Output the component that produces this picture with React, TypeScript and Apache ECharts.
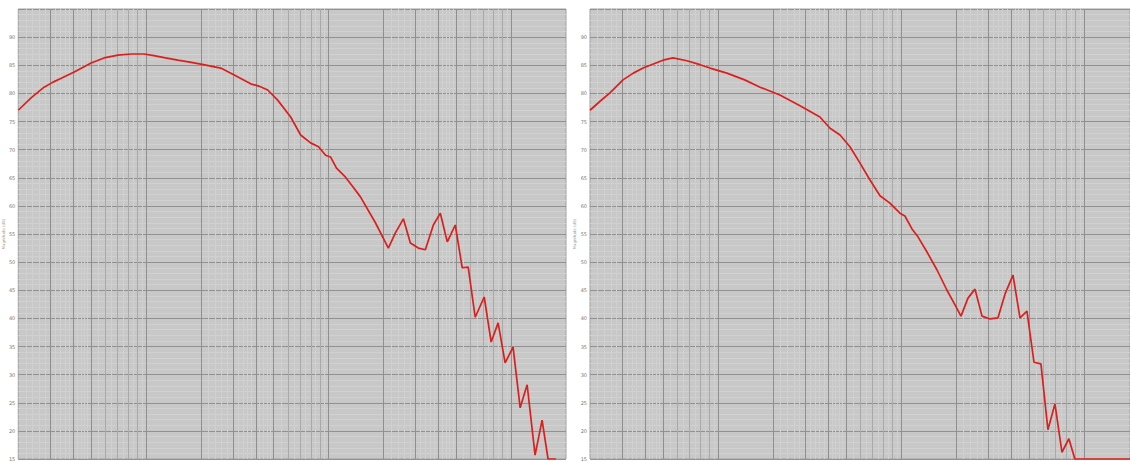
import React, { useEffect, useRef } from "react";
import * as echarts from "echarts";

// Left panel curve (frequency Hz, level dB)
const FREQ_LEFT = [20, 23.5, 27.7, 31, 34.4, 40.5, 50.1, 59, 70.4, 83, 97.6, 110.7, 128, 149.7, 171, 200, 257, 303, 375, 415, 465, 527, 621, 704, 798, 883, 964, 1026, 1107, 1240, 1354, 1497, 1808, 2128, 2326, 2572, 2810, 3108, 3394, 3754, 4099, 4475, 4948, 5404, 5826, 6363, 7130, 7783, 8496, 9281, 10260, 11220, 12250, 13540, 14790, 15950, 17600];
const LEVEL_LEFT = [77.0, 79.2, 81.1, 82.0, 82.7, 83.8, 85.4, 86.3, 86.8, 87.0, 87.0, 86.7, 86.3, 85.9, 85.6, 85.2, 84.5, 83.3, 81.7, 81.3, 80.6, 78.8, 75.8, 72.6, 71.2, 70.5, 69.0, 68.7, 66.7, 65.1, 63.5, 61.6, 57.0, 52.5, 55.2, 57.7, 53.4, 52.5, 52.2, 56.6, 58.7, 53.6, 56.6, 49.0, 49.1, 40.2, 43.8, 35.8, 39.2, 32.1, 34.9, 24.1, 28.2, 15.7, 21.9, 15, 15];

// Right panel curve
const FREQ_RIGHT = [20, 22.7, 25.7, 30.3, 34.5, 39, 50.1, 56.8, 67.8, 79.8, 90.5, 112, 140, 170, 218, 281, 361, 410, 465, 527, 598, 678, 769, 871, 988, 1052, 1150, 1240, 1389, 1576, 1786, 1976, 2130, 2326, 2541, 2776, 3070, 3394, 3706, 4099, 4475, 4886, 5338, 5826, 6363, 6950, 7590, 8280, 8930, 12000, 17870];
const LEVEL_RIGHT = [77.0, 78.6, 80.1, 82.4, 83.6, 84.5, 85.9, 86.3, 85.8, 85.1, 84.5, 83.6, 82.4, 81.1, 79.7, 77.8, 75.8, 73.8, 72.6, 70.5, 67.6, 64.6, 61.8, 60.5, 58.7, 58.2, 55.9, 54.5, 51.8, 48.6, 45.0, 42.4, 40.4, 43.6, 45.2, 40.4, 39.9, 40.1, 44.3, 47.7, 40.1, 41.3, 32.2, 31.9, 20.2, 24.8, 16.2, 18.6, 15, 15, 15];

// Axis extents / ticks
const X_MIN = 20;
const X_MAX_LEFT = 20000;
const X_MAX_RIGHT = 17870;
const Y_MIN = 15;
const Y_MAX = 95;
const Y_STEP = 5;
const Y_NAME = "Magnitude (dB)";

// Vertical grid line positions (Hz)
const DECADES = [10, 100, 1000, 10000];
const STRONG_MULT = [2, 3, 4, 5, 10];
const MID_MULT = [6, 7, 8, 9];
const FAINT_MULT = [2.2, 2.4, 2.6, 2.8, 3.2, 3.4, 3.6, 3.8, 4.2, 4.4, 4.6, 4.8, 5.5, 6.5, 7.5, 8.5, 9.5];

export default function App() {
  const ref = useRef<HTMLDivElement>(null);

  useEffect(() => {
    const chart = echarts.init(ref.current!, null, { renderer: "svg" });

    const vLines = (maxX: number) => {
      const out: any[] = [];
      const add = (mults: number[], color: string) => {
        DECADES.forEach((d) =>
          mults.forEach((m) => {
            const v = Math.round(d * m * 1000) / 1000;
            if (v > X_MIN && v < maxX) out.push({ xAxis: v, lineStyle: { color, width: 1, type: "solid" } });
          })
        );
      };
      add(FAINT_MULT, "#d0d0d0");
      add(MID_MULT, "#a9a9a9");
      add(STRONG_MULT, "#8f8f8f");
      return out;
    };

    const grids = [
      { left: 17, top: 9, width: 549, height: 450 },
      { left: 590, top: 9, width: 540, height: 450 },
    ].map((g) => ({
      ...g,
      show: true,
      backgroundColor: "#c8c8c8",
      borderColor: "#a0a0a0",
      borderWidth: 1,
      containLabel: false,
    }));

    const xAxes = [X_MAX_LEFT, X_MAX_RIGHT].map((mx, i) => ({
      type: "log",
      logBase: 10,
      gridIndex: i,
      min: X_MIN,
      max: mx,
      axisLine: { show: false },
      axisTick: { show: false },
      axisLabel: { show: false },
      splitLine: { show: false },
    }));

    const yAxes = [0, 1].map((i) => ({
      type: "value",
      gridIndex: i,
      z: 2,
      min: Y_MIN,
      max: Y_MAX,
      interval: Y_STEP,
      name: Y_NAME,
      nameLocation: "middle",
      nameRotate: 90,
      nameGap: 11,
      nameTextStyle: { fontSize: 4, color: "#9a9a9a", fontFamily: "DejaVu Sans" },
      axisLine: { show: false },
      axisTick: { show: false },
      axisLabel: { fontSize: 5, color: "#777777", margin: 3, showMaxLabel: false, fontFamily: "DejaVu Sans" },
      splitLine: { show: true, lineStyle: { color: "#919191", width: 1 } },
      minorTick: { show: false, splitNumber: 5 },
      minorSplitLine: { show: true, lineStyle: { color: "#d1d1d1", width: 1 } },
    }));

    const series: any[] = [];
    [
      { f: FREQ_LEFT, v: LEVEL_LEFT, mx: X_MAX_LEFT },
      { f: FREQ_RIGHT, v: LEVEL_RIGHT, mx: X_MAX_RIGHT },
    ].forEach((p, i) => {
      series.push({
        type: "line",
        xAxisIndex: i,
        yAxisIndex: i,
        data: [],
        z: 1,
        silent: true,
        markLine: {
          silent: true,
          symbol: ["none", "none"],
          label: { show: false },
          animation: false,
          data: vLines(p.mx),
        },
      });
      series.push({
        type: "line",
        xAxisIndex: i,
        yAxisIndex: i,
        data: p.f.map((f, k) => [f, p.v[k]]),
        showSymbol: false,
        symbol: "none",
        z: 5,
        clip: true,
        lineStyle: { color: "#dc1f1c", width: 1.7 },
        emphasis: { disabled: true },
      });
    });

    chart.setOption({
      animation: false,
      backgroundColor: "#ffffff",
      grid: grids,
      xAxis: xAxes,
      yAxis: yAxes,
      series,
    });

    return () => chart.dispose();
  }, []);

  return (
    <div
      ref={ref}
      style={{ position: "fixed", left: 0, top: 0, width: 1130, height: 462, background: "#fff" }}
    />
  );
}
